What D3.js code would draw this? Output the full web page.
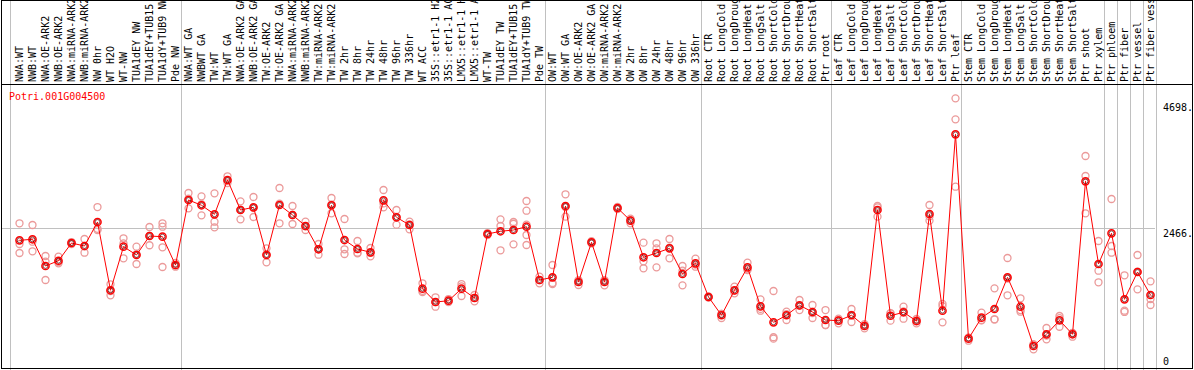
<!DOCTYPE html>
<html>
<head>
<meta charset="utf-8">
<script src="https://cdn.jsdelivr.net/npm/d3@7"></script>
<style>
  body { margin: 0; background: white; }
  text { font-family: "DejaVu Sans Mono", monospace; font-size: 10px; }
</style>
</head>
<body>
<div id="container"></div>
<script>
let w = 1194;
let h = 370;

let geneId = "Potri.001G004500";

let categories = [
  "NWA:WT", "NWB:WT", "NWA:OE-ARK2", "NWB:OE-ARK2", "NWA:miRNA-ARK2", "NWB:miRNA-ARK2",
  "NW 0hr", "WT H2O", "WT-NW", "TUA1dEY NW", "TUA1dEY+TUB15", "TUA1dY+TUB9 NW", "Pde NW",
  "NWA:WT GA", "NWBWT GA", "TW:WT", "TW:WT GA", "NWA:OE-ARK2 GA", "NWB:OE-ARK2 GA",
  "TW:OE-ARK2", "TW:OE-ARK2 GA", "NWA:miRNA-ARK2", "NWB:miRNA-ARK2", "TW:miRNA-ARK2",
  "TW:miRNA-ARK2", "TW 2hr", "TW 8hr", "TW 24hr", "TW 48hr", "TW 96hr", "TW 336hr",
  "WT ACC", "35S::etr1-1 H2", "35S::etr1-1 AC", "LMX5::etr1-1 H", "LMX5::etr1-1 A",
  "WT-TW", "TUA1dEY TW", "TUA1dEY+TUB15", "TUA1dY+TUB9 TW", "Pde TW",
  "OW:WT", "OW:WT GA", "OW:OE-ARK2", "OW:OE-ARK2 GA", "OW:miRNA-ARK2", "OW:miRNA-ARK2",
  "OW 2hr", "OW 8hr", "OW 24hr", "OW 48hr", "OW 96hr", "OW 336hr",
  "Root CTR", "Root LongCold", "Root LongDroug", "Root LongHeat", "Root LongSalt",
  "Root ShortCold", "Root ShortDrou", "Root ShortHeat", "Root ShortSalt", "Ptr root",
  "Leaf CTR", "Leaf LongCold", "Leaf LongDroug", "Leaf LongHeat", "Leaf LongSalt",
  "Leaf ShortCold", "Leaf ShortDrou", "Leaf ShortHeat", "Leaf ShortSalt", "Ptr leaf",
  "Stem CTR", "Stem LongCold", "Stem LongDroug", "Stem LongHeat", "Stem LongSalt",
  "Stem ShortCold", "Stem ShortDrou", "Stem ShortHeat", "Stem ShortSalt", "Ptr shoot",
  "Ptr xylem", "Ptr phloem", "Ptr fiber", "Ptr vessel", "Ptr fiber vess"
];

// number of samples in each experiment block (separated by grey lines)
let groupSizes = [13, 28, 12, 10, 10, 11, 1, 1, 1, 1];

let means = [
  2246, 2264, 1791, 1884, 2198, 2145, 2571, 1360, 2133, 1986, 2322, 2310, 1808,
  2961, 2867, 2707, 3315, 2783, 2831, 1986, 2872, 2695, 2500, 2087, 2867, 2251, 2092,
  2033, 2955, 2654, 2517, 1388, 1152, 1175, 1388, 1223, 2358, 2406, 2429, 2487, 1542,
  1590, 2854, 1507, 2211, 1507, 2819, 2594, 1945, 2021, 2104, 1649, 1838,
  1241, 917, 1360, 1767, 1076, 792, 917, 1094, 975, 833,
  821, 917, 727, 2783, 909, 970, 815, 2712, 998, 4125,
  502, 874, 1028, 1590, 1069, 372, 580, 828, 580, 3292, 1826,
  2370, 1200, 1684, 1276
];

let replicates = [
  [2548, 2181, 2021], [2517, 2221, 2051], [1968, 1867, 1542], [1955, 1838, 1860],
  [2215, 2180, 2198], [2269, 2026, 2140], [2836, 2450, 2429], [1466, 1271, 1345],
  [2282, 1927, 2190], [2133, 1826, 2000], [2482, 2158, 2325], [2548, 2487, 2122, 1773],
  [1778, 1844, 1800],
  [3085, 2813, 2985], [3026, 2689, 2885], [3079, 2576, 2477], [3381, 3262, 3300],
  [2937, 2618, 2790], [3014, 2659, 2820], [2104, 1856, 2000], [3173, 2548, 2895],
  [2854, 2535, 2695], [2576, 2429, 2495], [2181, 1991, 2090], [2996, 2725, 2880],
  [2624, 2087, 2003], [2234, 2026, 2015], [2110, 1962, 2025], [3138, 2831, 2900],
  [2783, 2523, 2655], [2576, 2441, 2530], [1484, 1330, 1350], [1236, 1069, 1150],
  [1205, 1170, 1150], [1471, 1259, 1430], [1165, 1276, 1225], [2340, 2375, 2360],
  [2618, 2500, 2069], [2571, 2175, 2540], [2943, 2771, 2523, 2340, 2163], [1601, 1484, 1540],
  [1808, 1471, 1490], [3062, 2665, 2835], [1454, 1530, 1540], [2211, 2190, 2230],
  [1448, 1540, 1530], [2819, 2800, 2838], [2629, 2548, 2605], [2204, 1874, 1750],
  [2193, 1767, 2103], [2269, 1927, 2116], [1791, 1448, 1708], [1920, 1778, 1816],
  [1241, 1230, 1252], [869, 940, 942], [1424, 1307, 1350], [1849, 1720, 1732],
  [1200, 998, 1030], [1347, 527, 502], [980, 833, 938], [1188, 1010, 1084],
  [1099, 869, 957], [1010, 745, 744],
  [856, 775, 832], [1028, 798, 925], [686, 760, 735], [2854, 2665, 2830],
  [821, 950, 956], [1069, 856, 985], [775, 851, 820], [2872, 2594, 2670],
  [1120, 1080, 792], [4763, 4391, 3196],
  [466, 520, 520], [963, 833, 826], [1395, 846, 843], [1932, 1271, 1567],
  [1218, 1010, 980], [314, 400, 402], [691, 491, 558], [904, 714, 866],
  [537, 600, 603], [3741, 3386, 2725], [2234, 1707, 1502],
  [2978, 2145, 2026], [1626, 998, 976], [1986, 1377, 1689], [1519, 1205, 1099]
];

let yTicks = [0, 2466, 4698];
let gridValue = 2466;

let viz = d3.select("#container")
  .append("svg")
  .attr("width", w)
  .attr("height", h);

let x = d3.scaleBand()
  .domain(d3.range(categories.length))
  .range([13, 13 + categories.length * 13]);

let cx = i => x(i) + x.bandwidth() / 2;
let plotRight = x(categories.length - 1) + x.bandwidth() - 2;

let y = d3.scaleLinear()
  .domain([0, 4698])
  .range([367, 102]);

// grey separators between experiment blocks
let seps = [x(0) - 3];
let acc = 0;
groupSizes.forEach(s => {
  acc += s;
  seps.push(x(acc - 1) + x.bandwidth() - 1.5);
});

viz.append("g").selectAll("line")
  .data(seps)
  .enter().append("line")
  .attr("x1", d => Math.round(d) + 0.5)
  .attr("x2", d => Math.round(d) + 0.5)
  .attr("y1", 0)
  .attr("y2", h)
  .attr("stroke", "#c0c0c0")
  .attr("stroke-width", 1);

viz.append("line")
  .attr("x1", 1)
  .attr("x2", plotRight)
  .attr("y1", Math.round(y(gridValue)) + 0.5)
  .attr("y2", Math.round(y(gridValue)) + 0.5)
  .attr("stroke", "#c0c0c0");

// frame
viz.append("rect")
  .attr("x", 1.5)
  .attr("y", 0.5)
  .attr("width", w - 3)
  .attr("height", 368)
  .attr("fill", "none")
  .attr("stroke", "black");

viz.append("line")
  .attr("x1", 1)
  .attr("x2", w - 1)
  .attr("y1", 84.5)
  .attr("y2", 84.5)
  .attr("stroke", "black");

// sample labels
viz.append("defs").append("clipPath").attr("id", "labelClip")
  .append("rect").attr("x", 0).attr("y", 1).attr("width", w).attr("height", 83);

viz.append("g").attr("clip-path", "url(#labelClip)")
  .selectAll("text")
  .data(categories)
  .enter().append("text")
  .attr("transform", (d, i) => "translate(" + (cx(i) + 3.5) + ",82) rotate(-90)")
  .attr("fill", "black")
  .text(d => d);

viz.append("text")
  .attr("x", 9)
  .attr("y", 100)
  .attr("fill", "red")
  .text(geneId);

// right axis values
viz.append("g").selectAll("text")
  .data(yTicks)
  .enter().append("text")
  .attr("x", 1163)
  .attr("y", d => d === 0 ? y(d) - 2 : y(d) + 9)
  .attr("fill", "black")
  .text(d => d === 0 ? "0" : d + ".");

// replicate points
let repData = [];
replicates.forEach((r, i) => r.forEach(v => repData.push({ i: i, v: v })));

viz.append("g").selectAll("circle")
  .data(repData)
  .enter().append("circle")
  .attr("cx", d => cx(d.i))
  .attr("cy", d => y(d.v))
  .attr("r", 3.5)
  .attr("fill", "none")
  .attr("stroke", "#eb9a9a")
  .attr("stroke-width", 1.3);

let line = d3.line()
  .x((d, i) => cx(i))
  .y(d => y(d));

viz.append("path")
  .datum(means)
  .attr("d", line)
  .attr("fill", "none")
  .attr("stroke", "red")
  .attr("stroke-width", 1);

let meanG = viz.append("g");
meanG.selectAll("circle.m")
  .data(means)
  .enter().append("circle")
  .attr("class", "m")
  .attr("cx", (d, i) => cx(i))
  .attr("cy", d => y(d))
  .attr("r", 3.6)
  .attr("fill", "none")
  .attr("stroke", "red")
  .attr("stroke-width", 1.5);

meanG.selectAll("circle.in")
  .data(means)
  .enter().append("circle")
  .attr("class", "in")
  .attr("cx", (d, i) => cx(i))
  .attr("cy", d => y(d))
  .attr("r", 2.4)
  .attr("fill", "none")
  .attr("stroke", "#5a0000")
  .attr("stroke-width", 0.7);
</script>
</body>
</html>
